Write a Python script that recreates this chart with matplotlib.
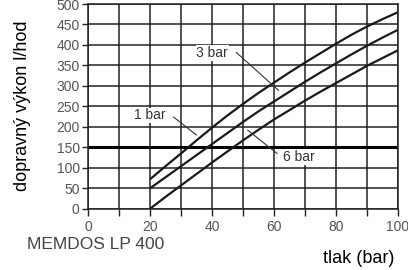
import numpy as np
import matplotlib
matplotlib.use("Agg")
import matplotlib.pyplot as plt

plt.rcParams['font.family'] = ['Liberation Sans', 'DejaVu Sans']

# tlak (x) a dopravny vykon (y)
tlak = [20, 25, 30, 35, 40, 45, 50, 55, 60, 65, 70, 75, 80, 85, 90, 95, 100]
vykon_1bar = [72, 104, 135, 167, 198, 228, 256, 283, 308, 333, 357, 380, 403, 425, 445, 463, 480]
vykon_3bar = [50, 77, 104, 131, 158, 185, 212, 238, 262, 286, 310, 333, 355, 377, 398, 418, 437]
vykon_6bar = [0, 29, 57, 85, 113, 140, 167, 193, 218, 241, 264, 286, 307, 328, 349, 368, 387]

xticks = [0, 20, 40, 60, 80, 100]
yticks = [0, 50, 100, 150, 200, 250, 300, 350, 400, 450, 500]
mez = 150

fig = plt.figure(figsize=(4.08, 2.70), dpi=100)
ax = fig.add_axes([88/408, 1-208.8/270, (398-88)/408, (208.8-4)/270])

ax.set_xlim(0, 100)
ax.set_ylim(0, 500)
ax.set_xticks(xticks)
ax.set_xticks(range(0, 101, 10), minor=True)
ax.set_yticks(yticks)
ax.grid(True, which='both', color='#222222', lw=1.1)
ax.set_axisbelow(True)
for s in ax.spines.values():
    s.set_color('#222222')
    s.set_linewidth(1.1)
ax.tick_params(which='both', direction='out', length=4, width=1.0, color='#222222',
               labelsize=10, labelcolor='#555555', pad=2)
ax.tick_params(axis='x', which='both', length=5, pad=3)

ax.axhline(mez, color='black', lw=2.2)

for v in (vykon_1bar, vykon_3bar, vykon_6bar):
    ax.plot(tlak, v, color='#1a1a1a', lw=1.6, solid_capstyle='butt')

box = dict(facecolor='white', edgecolor='none', pad=0.5)
lead = dict(arrowstyle='-', color='#333333', lw=0.8, shrinkA=0, shrinkB=0)
ax.annotate('', xy=(35, 180), xytext=(27.6, 224), arrowprops=lead)
ax.text(14.9, 228, '1 bar', fontsize=10, color='#333333', va='center', ha='left', bbox=box)
ax.annotate('', xy=(61.5, 289), xytext=(47.8, 382), arrowprops=lead)
ax.text(35, 380, '3 bar', fontsize=10, color='#333333', va='center', ha='left', bbox=box)
ax.annotate('', xy=(61, 135), xytext=(51.5, 192), arrowprops=lead)
ax.text(63, 126, '6 bar', fontsize=10, color='#333333', va='center', ha='left', bbox=box)

fig.text(23/408, 1-105.5/270, 'dopravný výkon l/hod', rotation=90, fontsize=13,
         ha='center', va='center', color='black')
fig.text(27/408, 1-249/270, 'MEMDOS LP 400', fontsize=12.5, color='#444444',
         ha='left', va='baseline')
fig.text(323/408, 1-263/270, 'tlak (bar)', fontsize=13, color='black',
         ha='left', va='baseline')

fig.savefig('out.png', dpi=100)
